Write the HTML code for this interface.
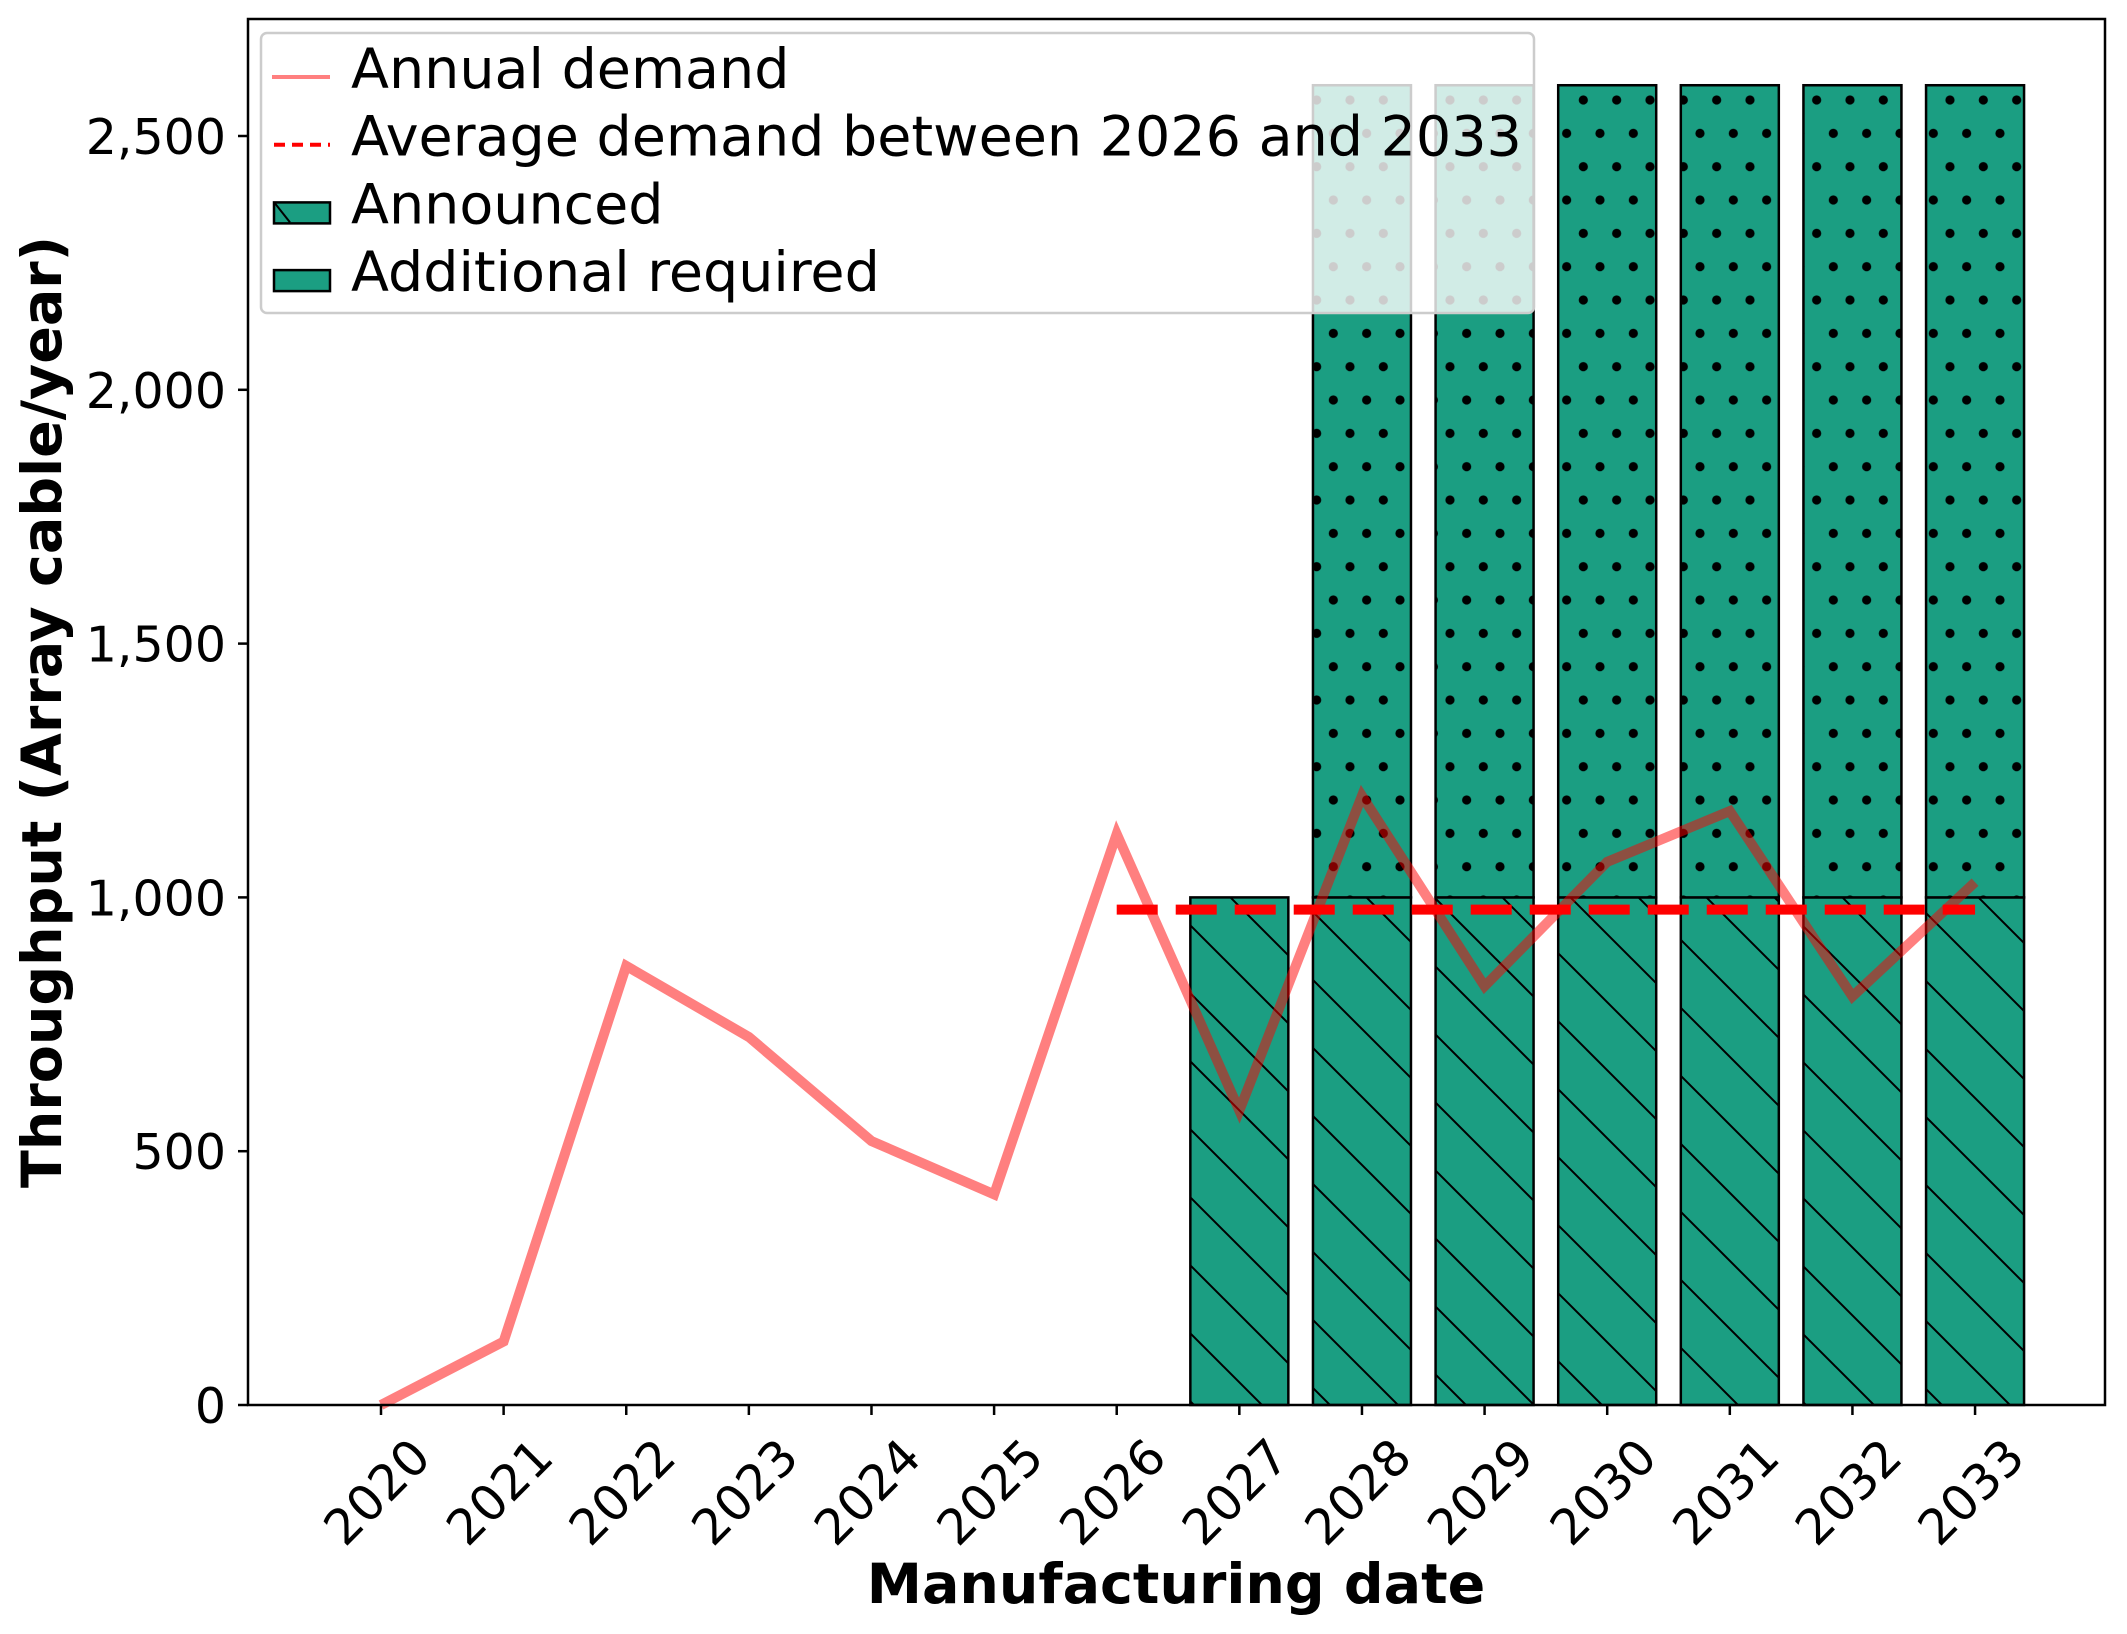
<!DOCTYPE html>
<html><head><meta charset="utf-8"><style>html,body{margin:0;padding:0;background:#fff}svg{display:block}text{font-family:"DejaVu Sans","Liberation Sans",sans-serif}</style></head>
<body>
<svg id="chart" width="2127" height="1634" viewBox="0 0 2127 1634" xmlns="http://www.w3.org/2000/svg">
<defs>
<pattern id="hatch" patternUnits="userSpaceOnUse" x="0" y="7" width="68" height="68">
<line x1="-10" y1="-10" x2="78" y2="78" stroke="#000" stroke-width="2"/>
<line x1="-78" y1="-10" x2="10" y2="78" stroke="#000" stroke-width="2"/>
<line x1="58" y1="-10" x2="146" y2="78" stroke="#000" stroke-width="2"/>
</pattern>
<pattern id="dots" patternUnits="userSpaceOnUse" x="0" y="0" width="33.333" height="66.667">
<circle cx="16.667" cy="33.333" r="4.6" fill="#000"/>
<circle cx="0" cy="0" r="4.6" fill="#000"/><circle cx="33.333" cy="0" r="4.6" fill="#000"/>
<circle cx="0" cy="66.667" r="4.6" fill="#000"/><circle cx="33.333" cy="66.667" r="4.6" fill="#000"/>
</pattern>
</defs>
<g id="plot"></g>
</svg>
<script>
const years = [2020,2021,2022,2023,2024,2025,2026,2027,2028,2029,2030,2031,2032,2033];
const demand = [0,125,865,725,520,415,1125,580,1200,825,1070,1170,805,1030];
const barYears = [2027,2028,2029,2030,2031,2032,2033];
const announced = [1000,1000,1000,1000,1000,1000,1000];
const additional = [0,1600,1600,1600,1600,1600,1600];
const avgDemand = 976;
const avgStart = 2026, avgEnd = 2033;
const yTicks = [0,500,1000,1500,2000,2500];
const yTickLabels = ["0","500","1,000","1,500","2,000","2,500"];

const NS = "http://www.w3.org/2000/svg";
const L = 248, R = 2105, T = 19, B = 1405;
const x = v => 381 + (v - 2020) * 122.62;
const y = v => B - v * 0.5076;
const bw = 98;
const g = document.getElementById('plot');
function mk(tag, attrs, parent) {
  const e = document.createElementNS(NS, tag);
  for (const k in attrs) e.setAttribute(k, attrs[k]);
  (parent || g).appendChild(e);
  return e;
}
barYears.forEach((yr, i) => {
  const bx = x(yr) - bw / 2;
  const a = mk('rect', {x: bx, y: y(announced[i]), width: bw, height: y(0) - y(announced[i]), fill: '#1b9e82'});
  
  
  const ah = mk('rect', {x: bx, y: y(announced[i]), width: bw, height: y(0) - y(announced[i]), fill: 'url(#hatch)', stroke: '#000', 'stroke-width': 2.5});
  
  
  if (additional[i] > 0) {
    const top = announced[i] + additional[i];
    const b = mk('rect', {x: bx, y: y(top), width: bw, height: y(announced[i]) - y(top), fill: '#1b9e82'});
    
    
    const bh = mk('rect', {x: bx, y: y(top), width: bw, height: y(announced[i]) - y(top), fill: 'url(#dots)', stroke: '#000', 'stroke-width': 2.5});
    
    
  }
});
const pl = mk('polyline', {points: years.map((yr, i) => x(yr) + ',' + y(demand[i])).join(' '), fill: 'none', stroke: 'rgba(255,0,0,0.5)', 'stroke-width': 10, 'stroke-linejoin': 'miter'});


const al = mk('line', {x1: x(avgStart), x2: x(avgEnd), y1: y(avgDemand), y2: y(avgDemand), stroke: '#ff0000', 'stroke-width': 10, 'stroke-dasharray': '41 18'});


const fr = mk('rect', {x: L, y: T, width: R - L, height: B - T, fill: 'none', stroke: '#000', 'stroke-width': 2.5});


yTicks.forEach((v, i) => {
  mk('line', {x1: L - 10, x2: L, y1: y(v), y2: y(v), stroke: '#000', 'stroke-width': 2.5});
  const t = mk('text', {x: 226, y: y(v) + 18, 'text-anchor': 'end', 'font-size': 49});
  t.textContent = yTickLabels[i];
  
  
});
years.forEach(yr => {
  mk('line', {x1: x(yr), x2: x(yr), y1: B, y2: B + 10, stroke: '#000', 'stroke-width': 2.5});
  const cx = x(yr) - 4, cy = 1492;
  const t = mk('text', {x: cx, y: cy + 17, 'text-anchor': 'middle', 'font-size': 49, transform: 'rotate(-45 ' + cx + ' ' + cy + ')'});
  t.textContent = yr;
  
  
});
const xt = mk('text', {x: 1176, y: 1603, 'text-anchor': 'middle', 'font-size': 55.5, 'font-weight': 'bold'});
xt.textContent = 'Manufacturing date';


const yt = mk('text', {x: 0, y: 0, 'text-anchor': 'middle', 'font-size': 55.5, 'font-weight': 'bold', transform: 'translate(61 712) rotate(-90)'});
yt.textContent = 'Throughput (Array cable/year)';


const lg = mk('g', {});


mk('rect', {x: 261, y: 33, width: 1273, height: 280, rx: 6, fill: 'rgba(255,255,255,0.8)', stroke: '#cccccc', 'stroke-width': 2.5}, lg);
const entries = ['Annual demand', 'Average demand between 2026 and 2033', 'Announced', 'Additional required'];
entries.forEach((label, i) => {
  const by = 88 + i * 67.7;
  const e = mk('g', {}, lg);
  
  
  if (i === 0) mk('line', {x1: 272, x2: 330, y1: by - 11, y2: by - 11, stroke: 'rgba(255,0,0,0.5)', 'stroke-width': 4}, e);
  if (i === 1) mk('line', {x1: 274, x2: 330, y1: by - 11, y2: by - 11, stroke: '#ff0000', 'stroke-width': 4, 'stroke-dasharray': '11 7'}, e);
  if (i === 2) {
    mk('rect', {x: 274, y: by - 21, width: 56, height: 21, fill: '#1b9e82', stroke: '#000', 'stroke-width': 2.5}, e);
    mk('line', {x1: 275, y1: by - 20, x2: 290, y2: by - 1, stroke: '#000', 'stroke-width': 2}, e);
  }
  if (i === 3) mk('rect', {x: 274, y: by - 21, width: 56, height: 21, fill: '#1b9e82', stroke: '#000', 'stroke-width': 2.5}, e);
  const t = mk('text', {x: 351, y: by, 'font-size': 55.5}, e);
  t.textContent = label;
});
</script>
</body></html>
